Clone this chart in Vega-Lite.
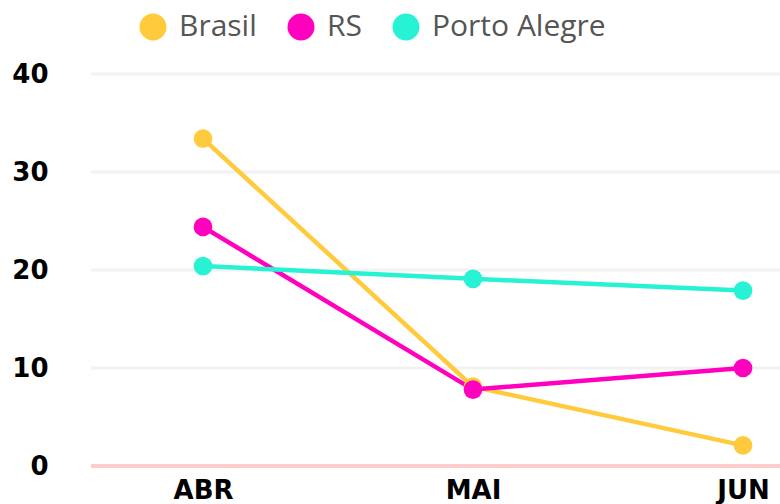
{
  "$schema": "https://vega.github.io/schema/vega-lite/v6.json",
  "width": 689,
  "height": 392,
  "autosize": "none",
  "padding": {"left": 91, "top": 74, "right": 0, "bottom": 38},
  "background": "white",
  "config": {"view": {"stroke": null}, "font": "DejaVu Sans"},
  "data": {
    "values": [
      {"mes": "ABR", "serie": "Brasil", "valor": 33.4},
      {"mes": "MAI", "serie": "Brasil", "valor": 8.1},
      {"mes": "JUN", "serie": "Brasil", "valor": 2.1},
      {"mes": "ABR", "serie": "RS", "valor": 24.4},
      {"mes": "MAI", "serie": "RS", "valor": 7.8},
      {"mes": "JUN", "serie": "RS", "valor": 10.0},
      {"mes": "ABR", "serie": "Porto Alegre", "valor": 20.4},
      {"mes": "MAI", "serie": "Porto Alegre", "valor": 19.1},
      {"mes": "JUN", "serie": "Porto Alegre", "valor": 17.9}
    ]
  },
  "layer": [
    {
      "data": {"values": [{"g": 10}, {"g": 20}, {"g": 30}, {"g": 40}]},
      "mark": {"type": "rule", "color": "#f2f2f2", "strokeWidth": 3},
      "encoding": {"y": {"field": "g", "type": "quantitative", "scale": {"domain": [0, 40], "nice": false}}}
    },
    {
      "mark": {"type": "rule", "color": "#ffcccc", "strokeWidth": 3},
      "encoding": {"y": {"datum": 0}}
    },
    {
      "encoding": {
        "x": {
          "field": "mes", "type": "ordinal", "sort": ["ABR", "MAI", "JUN"],
          "scale": {"type": "point", "range": [112, 652], "padding": 0},
          "axis": {"title": null, "domain": false, "ticks": false, "labelAngle": 0,
            "labelFontSize": 26, "labelFontWeight": "bold", "labelColor": "#000", "labelPadding": 11, "grid": false}
        },
        "y": {
          "field": "valor", "type": "quantitative",
          "scale": {"domain": [0, 40], "nice": false, "zero": true},
          "axis": {"title": null, "domain": false, "ticks": false, "values": [0, 10, 20, 30, 40],
            "labelFontSize": 26, "labelFontWeight": "bold", "labelColor": "#000", "labelPadding": 43, "grid": false}
        },
        "color": {
          "field": "serie", "type": "nominal",
          "scale": {"domain": ["Brasil", "RS", "Porto Alegre"], "range": ["#FFCB3D", "#FF00BF", "#28F2D4"]},
          "legend": {
            "title": null, "orient": "none", "direction": "horizontal",
            "legendX": 47, "legendY": -62,
            "symbolType": "circle", "symbolSize": 729, "symbolStrokeWidth": 0,
            "labelFontSize": 30, "labelColor": "#555", "labelOffset": 11, "columnPadding": 29,
            "labelFont": "Open Sans", "labelLimit": 400
          }
        }
      },
      "layer": [
        {"mark": {"type": "line", "strokeWidth": 4.5}},
        {"mark": {"type": "point", "filled": true, "size": 350, "opacity": 1}}
      ]
    }
  ]
}
